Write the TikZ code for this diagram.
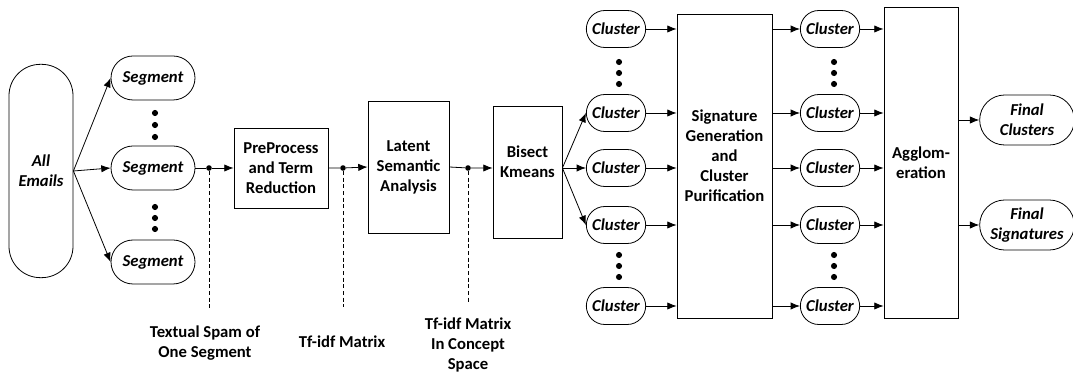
\documentclass[tikz,border=0pt]{standalone}
\usepackage{fontspec}
\setmainfont{Carlito}
\usetikzlibrary{arrows.meta,shapes.misc}

\begin{document}
\begin{tikzpicture}[
        x=0.75pt, y=-0.75pt,
        every node/.style={font=\fontsize{12.5}{15}\selectfont\bfseries},
        stepbox/.style={rectangle, draw, line width=0.6pt, align=center, inner sep=2pt},
        pill/.style={rounded rectangle, draw, line width=0.6pt, align=center, inner sep=1pt, font=\fontsize{12.5}{15}\selectfont\bfseries\itshape},
        segment/.style={pill, minimum width=65pt, minimum height=33pt},
        cluster/.style={pill, minimum width=46.5pt, minimum height=27.75pt},
        final/.style={pill, minimum width=73pt, minimum height=37.5pt},
        junction/.style={circle, fill, inner sep=0pt, minimum size=4.2pt},
        flow/.style={-{Latex[length=7pt,width=5.5pt]}, line width=0.6pt},
        tap/.style={line width=0.6pt, dash pattern=on 3pt off 2pt},
        note/.style={align=center}
    ]
        \useasboundingbox (0,0) rectangle (1073,373);

        % ========== INPUT (Left) ==========
        \node[rectangle, draw, line width=0.6pt, rounded corners=23.5pt, minimum width=48pt, minimum height=160pt, align=center, font=\fontsize{12.5}{15}\selectfont\bfseries\itshape] (emails) at (41,171) {All\\Emails};
        \node[segment] (seg1) at (153,78) {Segment};
        \node[segment] (seg2) at (153,168) {Segment};
        \node[segment] (seg3) at (153,262) {Segment};
        \fill (155,113) circle (2.3pt) (155,125) circle (2.3pt) (155,137) circle (2.3pt);
        \fill (155,207) circle (2.3pt) (155,218) circle (2.3pt) (155,229) circle (2.3pt);

        % ========== PROCESSING STEPS (Center) ==========
        \node[stepbox, minimum width=70.5pt, minimum height=60pt] (pre) at (281,168) {PreProcess\\and Term\\Reduction};
        \node[stepbox, minimum width=60.75pt, minimum height=99pt] (lsa) at (408.5,167) {Latent\\Semantic\\Analysis};
        \node[stepbox, minimum width=51.75pt, minimum height=99pt, text depth=16pt] (bisect) at (527.5,172) {Bisect\\Kmeans};

        \node[junction] (d1) at (209,168) {};
        \node[junction] (d2) at (343,168) {};
        \node[junction] (d3) at (468,168) {};
        \coordinate (e1) at (209,310);
        \coordinate (e2) at (343,307);
        \coordinate (e3) at (468,304);

        % ========== CLUSTERS AND SIGNATURES (Right) ==========
        \node[cluster] (c1) at (616,29) {Cluster};
        \node[cluster] (c2) at (616,113) {Cluster};
        \node[cluster] (c3) at (616,168) {Cluster};
        \node[cluster] (c4) at (616,225) {Cluster};
        \node[cluster] (c5) at (616,306) {Cluster};
        \fill (619,62) circle (2.3pt) (619,73) circle (2.3pt) (619,84) circle (2.3pt);
        \fill (619,255) circle (2.3pt) (619,266) circle (2.3pt) (619,277) circle (2.3pt);

        \node[stepbox, minimum width=71.25pt, minimum height=228pt, text depth=16pt] (sig) at (724.5,166) {Signature\\Generation\\and\\Cluster\\Purification};

        \node[cluster] (k1) at (830,29) {Cluster};
        \node[cluster] (k2) at (830,113) {Cluster};
        \node[cluster] (k3) at (830,168) {Cluster};
        \node[cluster] (k4) at (830,225) {Cluster};
        \node[cluster] (k5) at (830,306) {Cluster};
        \fill (834,62) circle (2.3pt) (834,73) circle (2.3pt) (834,84) circle (2.3pt);
        \fill (834,255) circle (2.3pt) (834,266) circle (2.3pt) (834,277) circle (2.3pt);

        \node[stepbox, minimum width=55.5pt, minimum height=233.25pt] (agg) at (921,162.5) {Agglom-\\eration};

        \node[final] (fin1) at (1027,120) {Final\\Clusters};
        \node[final] (fin2) at (1027,225) {Final\\Signatures};

        % ========== CONNECTORS ==========
        \draw[flow] (emails.east) -- (seg1.west);
        \draw[flow] (emails.east) -- (seg2.west);
        \draw[flow] (emails.east) -- (seg3.west);

        \draw[flow] (seg2.east) -- (d1) -- (pre.west);
        \draw[flow] (pre.east) -- (d2) -- (lsa.west);
        \draw[flow] (lsa.east) -- (d3) -- (d3 -| bisect.west);

        \draw[flow] (d3 -| bisect.east) -- (c2.west);
        \draw[flow] (d3 -| bisect.east) -- (c3.west);
        \draw[flow] (d3 -| bisect.east) -- (c4.west);

        \draw[flow] (c1.east) -- (c1 -| sig.west);
        \draw[flow] (c2.east) -- (c2 -| sig.west);
        \draw[flow] (c3.east) -- (c3 -| sig.west);
        \draw[flow] (c4.east) -- (c4 -| sig.west);
        \draw[flow] (c5.east) -- (c5 -| sig.west);

        \draw[flow] (k1 -| sig.east) -- (k1.west);
        \draw[flow] (k2 -| sig.east) -- (k2.west);
        \draw[flow] (k3 -| sig.east) -- (k3.west);
        \draw[flow] (k4 -| sig.east) -- (k4.west);
        \draw[flow] (k5 -| sig.east) -- (k5.west);

        \draw[flow] (k1.east) -- (k1 -| agg.west);
        \draw[flow] (k2.east) -- (k2 -| agg.west);
        \draw[flow] (k3.east) -- (k3 -| agg.west);
        \draw[flow] (k4.east) -- (k4 -| agg.west);
        \draw[flow] (k5.east) -- (k5 -| agg.west);

        \draw[flow] (fin1 -| agg.east) -- (fin1.west);
        \draw[flow] (fin2 -| agg.east) -- (fin2.west);

        % ========== DATA LABELS ==========
        \draw[tap] (d1) -- (e1);
        \draw[tap] (d2) -- (e2);
        \draw[tap] (d3) -- (e3);
        \node[note] (lab1) at (205,343) {Textual Spam of\\One Segment};
        \node[note] (lab2) at (342,342) {Tf-idf Matrix};
        \node[note] (lab3) at (468,345) {Tf-idf Matrix\\In Concept\\Space};

    \end{tikzpicture}
\end{document}
